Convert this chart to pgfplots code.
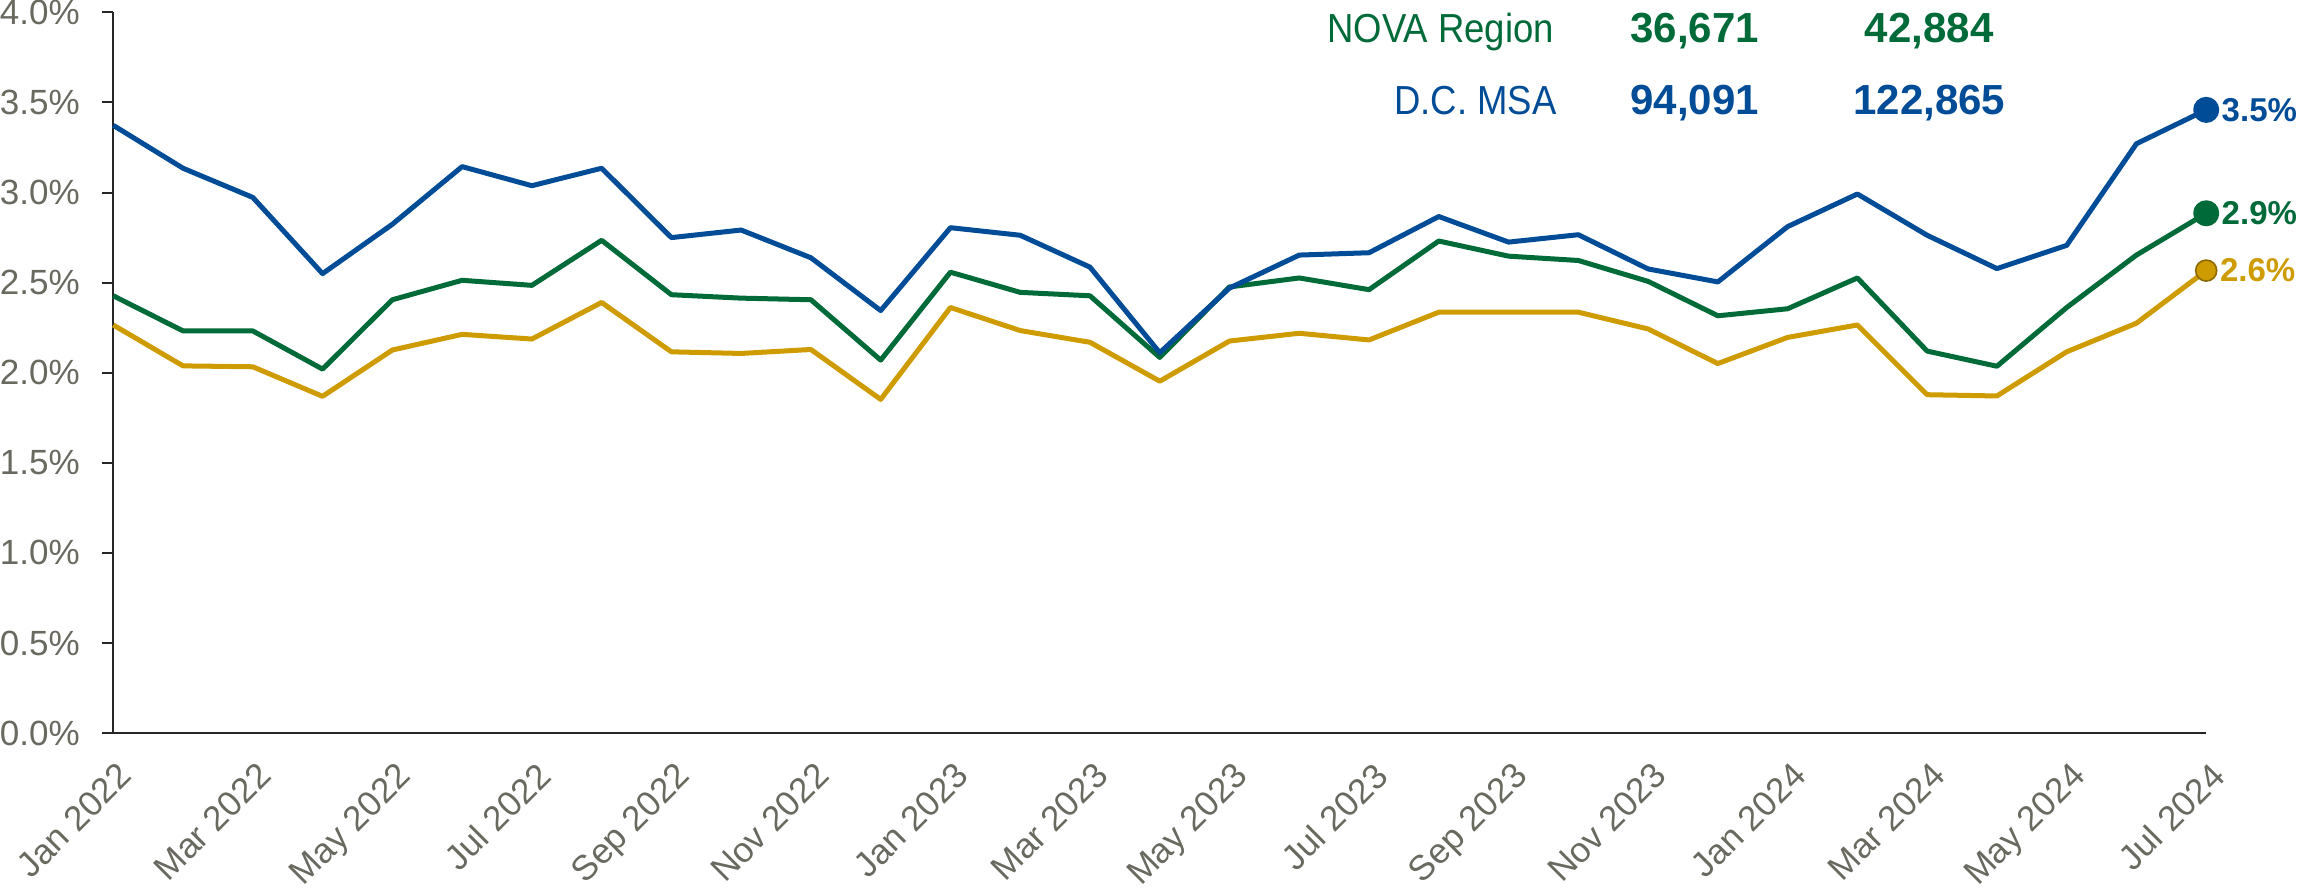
\documentclass[border=0pt]{standalone}
\usepackage{fontspec}
\setmainfont{Liberation Sans}
\newfontfamily\narrowfont{Liberation Sans}[FakeStretch=0.9]
\usepackage{pgfplots}
\usepackage{pgfplotstable}
\pgfplotsset{compat=1.18}

\definecolor{dcblue}{RGB}{0,76,151}
\definecolor{novagreen}{RGB}{0,106,56}
\definecolor{gold}{RGB}{206,155,0}
\definecolor{goldedge}{RGB}{140,105,0}
\definecolor{tickgray}{RGB}{105,105,96}

% month index (0 = Jan 2022), rates in percent
\pgfplotstableread{
m  dc     nova   other
0  3.373  2.427  2.265
1  3.135  2.232  2.038
2  2.973  2.232  2.033
3  2.550  2.020  1.869
4  2.824  2.405  2.126
5  3.144  2.513  2.213
6  3.038  2.485  2.187
7  3.135  2.735  2.390
8  2.750  2.433  2.116
9  2.792  2.414  2.107
10 2.638  2.405  2.129
11 2.345  2.070  1.852
12 2.805  2.558  2.362
13 2.763  2.446  2.234
14 2.586  2.427  2.169
15 2.111  2.085  1.953
16 2.470  2.476  2.176
17 2.653  2.526  2.219
18 2.666  2.461  2.182
19 2.867  2.731  2.336
20 2.725  2.647  2.336
21 2.766  2.623  2.336
22 2.576  2.507  2.243
23 2.504  2.316  2.051
24 2.811  2.355  2.196
25 2.992  2.526  2.265
26 2.763  2.120  1.878
27 2.578  2.036  1.871
28 2.707  2.362  2.116
29 3.271  2.653  2.275
30 3.459  2.885  2.567
}\ratetable

\begin{document}
\begin{tikzpicture}
\begin{axis}[
  scale only axis,
  width=1045.5pt, height=360pt,
  xmin=0, xmax=30, ymin=0, ymax=4,
  clip=false,
  axis x line*=bottom, axis y line*=left,
  axis line style={line width=1pt, black!85},
  tick align=outside,
  major tick length=5.5pt,
  xtick={0,2,...,30},
  xticklabels={Jan 2022,Mar 2022,May 2022,Jul 2022,Sep 2022,Nov 2022,
    Jan 2023,Mar 2023,May 2023,Jul 2023,Sep 2023,Nov 2023,
    Jan 2024,Mar 2024,May 2024,Jul 2024},
  xtick style={draw=none},
  ytick={0,0.5,1,1.5,2,2.5,3,3.5,4},
  ytick style={line width=1pt, black!85},
  yticklabel={\pgfmathprintnumber[fixed,fixed zerofill,precision=1]{\tick}\%},
  /pgf/number format/assume math mode=true,
  every tick label/.append style={font=\fontsize{17.5}{21}\selectfont, text=tickgray},
  xticklabel style={xshift=1.5pt, yshift=-8pt, rotate=45, anchor=north east, inner sep=0pt},
  yticklabel style={anchor=east, inner sep=0pt, xshift=-11pt},
  every axis plot/.append style={line width=2.5pt, line join=round},
]
\addplot[gold, mark=none] table[x=m, y=other] {\ratetable};
\addplot[novagreen, mark=none] table[x=m, y=nova] {\ratetable};
\addplot[dcblue, mark=none] table[x=m, y=dc] {\ratetable};

% end markers with value labels
\pgfplotsset{endlabel/.style={only marks, mark=*, mark size=5.25pt,
    nodes near coords, point meta=explicit symbolic,
    every node near coord/.append style={anchor=west, inner sep=0pt, xshift=6.5pt,
      font=\fontsize{16.5}{19}\selectfont\bfseries}}}
\addplot[endlabel, gold, mark options={draw=goldedge, fill=gold, line width=0.8pt}]
  coordinates {(30,2.567) [2.6\%]};
\addplot[endlabel, novagreen] coordinates {(30,2.885) [2.9\%]};
\addplot[endlabel, dcblue] coordinates {(30,3.459) [3.5\%]};

% header rows
\node[anchor=base east, text=novagreen, font=\fontsize{20.25}{24}\selectfont\narrowfont]
  at (axis cs:20.75,3.833) {NOVA Region};
\node[anchor=base east, text=dcblue, font=\fontsize{20.25}{24}\selectfont\narrowfont]
  at (axis cs:20.79,3.433) {D.C. MSA};
\node[anchor=base, text=novagreen, font=\fontsize{21}{24}\selectfont\bfseries]
  at (axis cs:22.67,3.833) {36,671};
\node[anchor=base, text=novagreen, font=\fontsize{21}{24}\selectfont\bfseries]
  at (axis cs:26.03,3.833) {42,884};
\node[anchor=base, text=dcblue, font=\fontsize{21}{24}\selectfont\bfseries]
  at (axis cs:22.67,3.433) {94,091};
\node[anchor=base, text=dcblue, font=\fontsize{21}{24}\selectfont\bfseries]
  at (axis cs:26.03,3.433) {122,865};
\end{axis}
\end{tikzpicture}
\end{document}
